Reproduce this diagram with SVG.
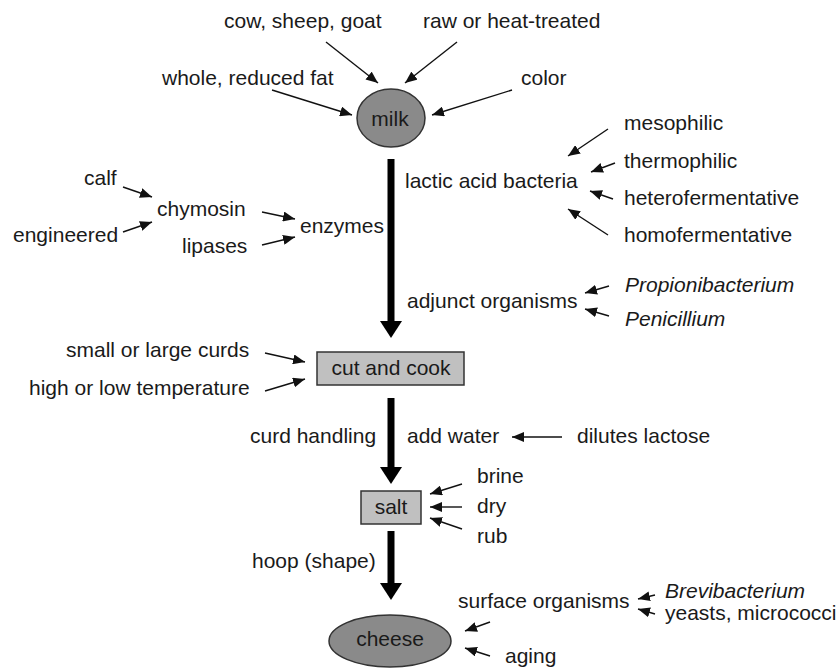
<svg xmlns="http://www.w3.org/2000/svg" width="839" height="668" viewBox="0 0 839 668">
<defs>
<marker id="ah" viewBox="0 0 12 10" refX="12" refY="5" markerWidth="12" markerHeight="10" markerUnits="userSpaceOnUse" orient="auto">
<path d="M0,0 L12,5 L0,10 z" fill="#111"/>
</marker>
</defs>
<style>
text{font-family:"Liberation Sans",Arial,sans-serif;font-size:21px;fill:#1a1a1a}
.it{font-style:italic}
.mid{text-anchor:middle}
.thin{stroke:#111;stroke-width:1.4;fill:none;marker-end:url(#ah)}
.thick{stroke:#000;stroke-width:7;fill:none}
.head{fill:#000}
.oval{fill:#8a8a8a;stroke:#333;stroke-width:1.5}
.box{fill:#c0c0c0;stroke:#333;stroke-width:1.5}
</style>
<rect width="839" height="668" fill="#fff"/>
<g id="connectors">
<line class="thick" x1="391" y1="159" x2="391" y2="322"/>
<polygon class="head" points="380,321 402,321 391,338"/>
<line class="thick" x1="391" y1="398" x2="391" y2="468"/>
<polygon class="head" points="380,467 402,467 391,484"/>
<line class="thick" x1="391" y1="531" x2="391" y2="584"/>
<polygon class="head" points="380,583 402,583 391,600"/>
<line class="thin" x1="326" y1="42" x2="378" y2="83"/>
<line class="thin" x1="457" y1="42" x2="405" y2="83"/>
<line class="thin" x1="272" y1="90" x2="352" y2="115"/>
<line class="thin" x1="512" y1="90" x2="432" y2="115"/>
<line class="thin" x1="608" y1="129" x2="568" y2="156"/>
<line class="thin" x1="615" y1="163" x2="591" y2="172"/>
<line class="thin" x1="613" y1="199" x2="590" y2="191"/>
<line class="thin" x1="608" y1="235" x2="568" y2="209"/>
<line class="thin" x1="123" y1="187" x2="152" y2="197"/>
<line class="thin" x1="123" y1="232" x2="152" y2="222"/>
<line class="thin" x1="262" y1="212" x2="295" y2="219"/>
<line class="thin" x1="262" y1="245" x2="295" y2="237"/>
<line class="thin" x1="609" y1="286" x2="585" y2="293"/>
<line class="thin" x1="609" y1="316" x2="585" y2="309"/>
<line class="thin" x1="265" y1="353" x2="305" y2="362"/>
<line class="thin" x1="265" y1="391" x2="305" y2="379"/>
<line class="thin" x1="562" y1="437" x2="512" y2="437"/>
<line class="thin" x1="462" y1="484" x2="430" y2="494"/>
<line class="thin" x1="462" y1="507" x2="430" y2="507"/>
<line class="thin" x1="462" y1="529" x2="430" y2="518"/>
<line class="thin" x1="655" y1="595" x2="638" y2="599"/>
<line class="thin" x1="655" y1="614" x2="638" y2="609"/>
<line class="thin" x1="490" y1="622" x2="465" y2="631"/>
<line class="thin" x1="490" y1="656" x2="465" y2="648"/>
</g>
<g id="milk"><ellipse class="oval" cx="391" cy="118" rx="34" ry="29"/><text class="mid" x="390" y="126">milk</text></g>
<g id="cut-and-cook"><rect class="box" x="317" y="352" width="147" height="33"/><text class="mid" x="391" y="375">cut and cook</text></g>
<g id="salt"><rect class="box" x="361" y="491" width="60" height="33"/><text class="mid" x="391" y="514">salt</text></g>
<g id="cheese"><ellipse class="oval" cx="390" cy="641" rx="61" ry="26"/><text class="mid" x="390" y="646">cheese</text></g>
<g id="labels">
<text x="224" y="28">cow, sheep, goat</text>
<text x="423" y="28">raw or heat-treated</text>
<text x="162" y="85">whole, reduced fat</text>
<text x="521" y="85">color</text>
<text x="624" y="130">mesophilic</text>
<text x="624" y="168">thermophilic</text>
<text x="405" y="188">lactic acid bacteria</text>
<text x="624" y="205">heterofermentative</text>
<text x="624" y="242">homofermentative</text>
<text x="84" y="185">calf</text>
<text x="157" y="216">chymosin</text>
<text x="300" y="233">enzymes</text>
<text x="13" y="242">engineered</text>
<text x="182" y="253">lipases</text>
<text class="it" x="625" y="292">Propionibacterium</text>
<text x="407" y="308">adjunct organisms</text>
<text class="it" x="625" y="326">Penicillium</text>
<text x="66" y="357">small or large curds</text>
<text x="29" y="395">high or low temperature</text>
<text x="250" y="443">curd handling</text>
<text x="407" y="443">add water</text>
<text x="577" y="443">dilutes lactose</text>
<text x="477" y="483">brine</text>
<text x="477" y="513">dry</text>
<text x="477" y="543">rub</text>
<text x="252" y="568">hoop (shape)</text>
<text class="it" x="665" y="598">Brevibacterium</text>
<text x="458" y="608">surface organisms</text>
<text x="665" y="620">yeasts, micrococci</text>
<text x="505" y="663">aging</text>
</g>
</svg>
